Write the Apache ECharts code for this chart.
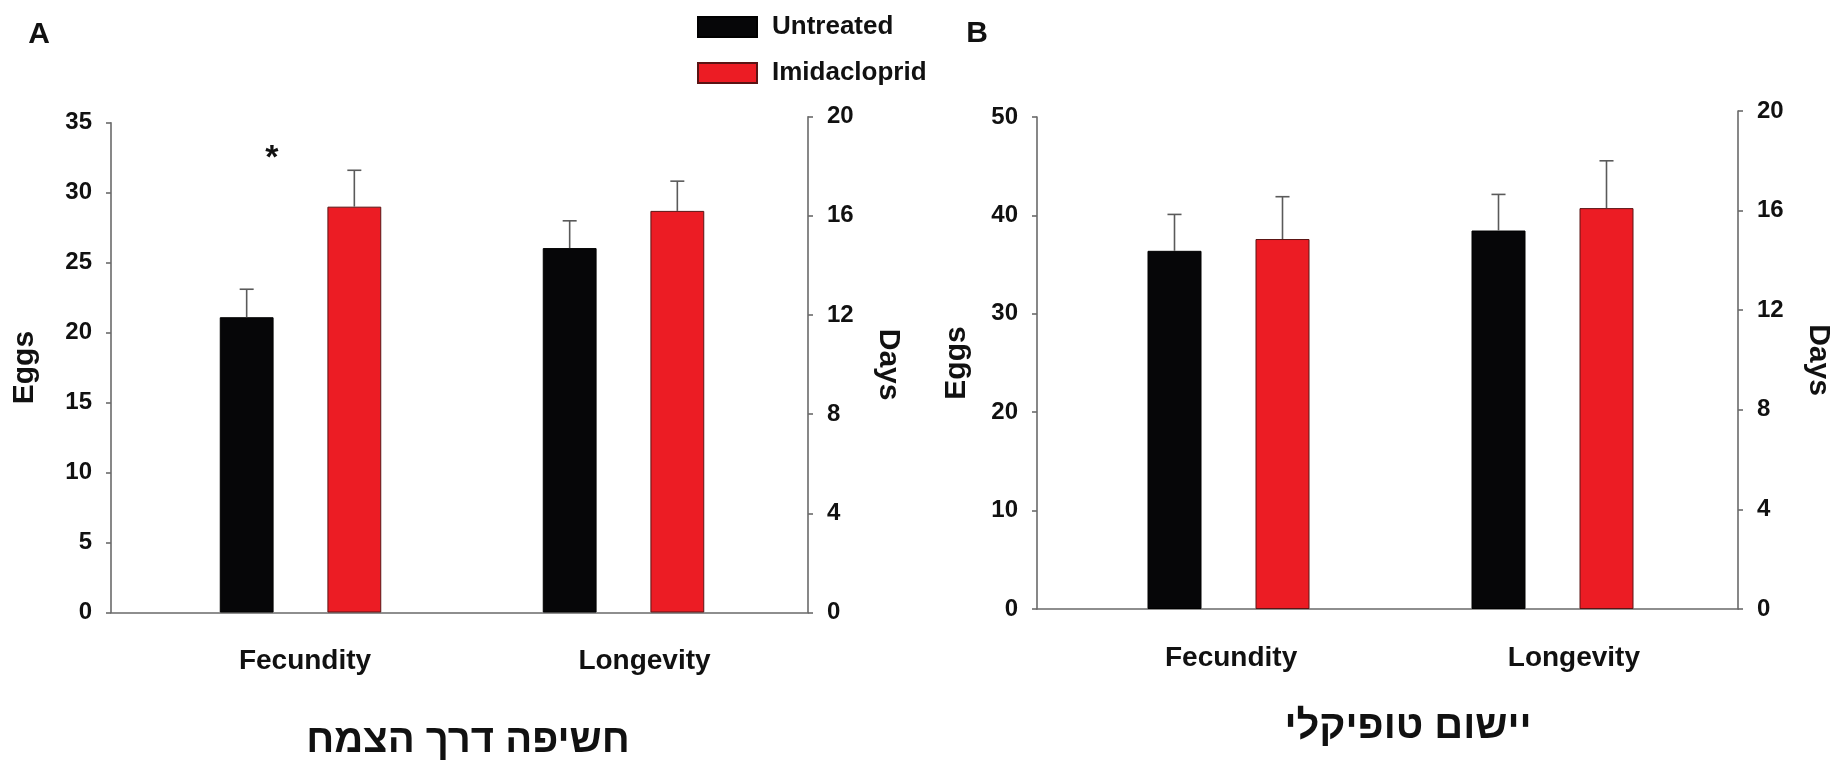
<!DOCTYPE html>
<html>
<head>
<meta charset="utf-8">
<script src="https://cdn.jsdelivr.net/npm/echarts@6/dist/echarts.min.js"></script>
<style>
  html, body { margin: 0; padding: 0; background: #ffffff; }
  #chart { width: 1845px; height: 764px; }
</style>
</head>
<body>
<div id="chart"></div>
<script>
// ---------------- DATA ----------------
const categories = ['Fecundity', 'Longevity'];
const treatments = ['Untreated', 'Imidacloprid'];
const panelLetters = ['A', 'B'];
const panelTitles = ['חשיפה דרך הצמח', 'יישום טופיקלי'];
const eggsAxisName = 'Eggs';
const daysAxisName = 'Days';

// Panel A — means and (upper) error bars, [Untreated, Imidacloprid]
const aFecundityMean = [21.1, 29.0];   // eggs
const aFecundityErr  = [2.0, 2.6];
const aLongevityMean = [14.7, 16.2];   // days
const aLongevityErr  = [1.1, 1.2];
const aEggsTicks = [0, 35, 5];         // min, max, step
const aDaysTicks = [0, 20, 4];
const aSignificance = ['*', ''];       // marks over fecundity bars
const aSignificanceEggs = 33;

// Panel B
const bFecundityMean = [36.4, 37.6];
const bFecundityErr  = [3.7, 4.3];
const bLongevityMean = [15.2, 16.1];
const bLongevityErr  = [1.45, 1.9];
const bEggsTicks = [0, 50, 10];
const bDaysTicks = [0, 20, 4];
const bSignificance = ['', ''];
const bSignificanceEggs = 0;

// ---------------- STYLE / LAYOUT ----------------
const FONT = "'Liberation Sans', Arial, 'DejaVu Sans', sans-serif";
const BLACK = '#060608';
const RED = '#ec1c24';
const AXIS = '#6a6a6a';
const ERR = '#5a5a5a';
const CAT_GAP = 0.5;   // barCategoryGap
const BAR_GAP = 1.0;   // barGap

const panels = [
  {
    fec: aFecundityMean, fecErr: aFecundityErr, lon: aLongevityMean, lonErr: aLongevityErr,
    eggs: aEggsTicks, days: aDaysTicks, sig: aSignificance, sigY: aSignificanceEggs,
    letter: panelLetters[0], title: panelTitles[0],
    L: 111, R: 808, base: 612.5, topL: 122.7, topR: 116.7,
    barL: 139, barR: 785, labL: 135.25, labR: 814.25,
    eggsGap: 71, daysGap: 65, titleX: 468, titleY: 741, letterX: 39, letterY: 35
  },
  {
    fec: bFecundityMean, fecErr: bFecundityErr, lon: bLongevityMean, lonErr: bLongevityErr,
    eggs: bEggsTicks, days: bDaysTicks, sig: bSignificance, sigY: bSignificanceEggs,
    letter: panelLetters[1], title: panelTitles[1],
    L: 1037, R: 1738, base: 609, topL: 117, topR: 111,
    barL: 1066.5, barR: 1714.5, labL: 1059.7, labR: 1745.3,
    eggsGap: 65, daysGap: 65, titleX: 1408, titleY: 727, letterX: 977, letterY: 34
  }
];

const grids = [], xAxes = [], yAxes = [], series = [], titles = [];

const hiddenCat = (gi) => ({ type: 'category', gridIndex: gi, data: categories, show: false });
const hiddenVal = (gi, t) => ({ type: 'value', gridIndex: gi, min: t[0], max: t[1], interval: t[2], show: false });

function visibleY(gi, t, pos, name, gap, rot) {
  return {
    type: 'value', gridIndex: gi, position: pos, min: t[0], max: t[1], interval: t[2],
    name: name, nameLocation: 'middle', nameGap: gap, nameRotate: rot,
    nameTextStyle: { fontFamily: FONT, fontWeight: 'bold', fontSize: 30, color: '#111' },
    axisLine: { show: true, lineStyle: { color: AXIS, width: 1.6 } },
    axisTick: { show: true, inside: false, length: 5, lineStyle: { color: AXIS, width: 1.6 } },
    axisLabel: { margin: 19, fontFamily: FONT, fontWeight: 'bold', fontSize: 24, color: '#111' },
    splitLine: { show: false }
  };
}

function errRender(params, api) {
  const cat = api.value(0), mean = api.value(1), err = api.value(2), idx = api.value(3);
  const catW = api.size([1, 0])[0];
  const barW = catW * (1 - CAT_GAP) / (2 + BAR_GAP);
  const dx = (idx === 0 ? -1 : 1) * barW * (1 + BAR_GAP) / 2;
  const p0 = api.coord([cat, mean]);
  const p1 = api.coord([cat, mean + err]);
  const x = p0[0] + dx;
  const cap = barW * 0.13;
  return {
    type: 'group',
    children: [
      { type: 'line', shape: { x1: x, y1: p0[1], x2: x, y2: p1[1] }, style: { stroke: ERR, lineWidth: 1.6 } },
      { type: 'line', shape: { x1: x - cap, y1: p1[1], x2: x + cap, y2: p1[1] }, style: { stroke: ERR, lineWidth: 1.6 } }
    ]
  };
}

const sigTexts = {};
function sigRender(params, api) {
  const cat = api.value(0), y = api.value(1), idx = api.value(2);
  const catW = api.size([1, 0])[0];
  const barW = catW * (1 - CAT_GAP) / (2 + BAR_GAP);
  const dx = (idx === 0 ? -1 : 1) * barW * (1 + BAR_GAP) / 2;
  const p = api.coord([cat, y]);
  const fs = 34;
  return {
    type: 'text',
    x: p[0] + dx + barW * 0.47, y: p[1] + fs * 0.22,
    style: { text: sigTexts[params.seriesIndex][params.dataIndex], font: 'bold ' + fs + 'px ' + FONT, fill: '#111', align: 'center', verticalAlign: 'middle' }
  };
}

panels.forEach((p, k) => {
  const b = k * 5;
  const W = p.R - p.L;
  grids.push({ left: p.L, width: W, top: p.topL, height: p.base - p.topL });            // left axis + baseline
  grids.push({ left: p.L, width: W, top: p.topR, height: p.base - p.topR });            // right axis
  grids.push({ left: p.barL, width: p.barR - p.barL, top: p.topL, height: p.base - p.topL }); // eggs bars
  grids.push({ left: p.barL, width: p.barR - p.barL, top: p.topR, height: p.base - p.topR }); // days bars
  grids.push({ left: p.labL, width: p.labR - p.labL, top: p.topL, height: p.base - p.topL }); // category labels

  xAxes.push({
    type: 'category', gridIndex: b, data: categories,
    axisLine: { show: true, lineStyle: { color: AXIS, width: 1.6 } },
    axisTick: { show: false }, axisLabel: { show: false }
  });
  xAxes.push(hiddenCat(b + 1));
  xAxes.push(hiddenCat(b + 2));
  xAxes.push(hiddenCat(b + 3));
  xAxes.push({
    type: 'category', gridIndex: b + 4, data: categories,
    axisLine: { show: false }, axisTick: { show: false },
    axisLabel: { show: true, margin: 35, fontFamily: FONT, fontWeight: 'bold', fontSize: 28, color: '#111' }
  });

  yAxes.push(visibleY(b, p.eggs, 'left', eggsAxisName, p.eggsGap, 90));
  yAxes.push(visibleY(b + 1, p.days, 'right', daysAxisName, p.daysGap, -90));
  yAxes.push(hiddenVal(b + 2, p.eggs));
  yAxes.push(hiddenVal(b + 3, p.days));
  yAxes.push(hiddenVal(b + 4, p.eggs));

  const barBase = { type: 'bar', barGap: (BAR_GAP * 100) + '%', barCategoryGap: (CAT_GAP * 100) + '%', silent: true };
  const styleFor = (i) => i === 0
    ? { color: BLACK, borderColor: '#000000', borderWidth: 1 }
    : { color: RED, borderColor: '#5a1414', borderWidth: 1 };

  treatments.forEach((name, i) => {
    series.push(Object.assign({}, barBase, {
      name: name, xAxisIndex: b + 2, yAxisIndex: b + 2,
      data: [p.fec[i], '-'], itemStyle: styleFor(i)
    }));
  });
  treatments.forEach((name, i) => {
    series.push(Object.assign({}, barBase, {
      name: name, xAxisIndex: b + 3, yAxisIndex: b + 3,
      data: ['-', p.lon[i]], itemStyle: styleFor(i)
    }));
  });
  series.push({
    type: 'custom', xAxisIndex: b + 2, yAxisIndex: b + 2, z: 5, silent: true, clip: false,
    renderItem: errRender,
    data: treatments.map((t, i) => [0, p.fec[i], p.fecErr[i], i])
  });
  series.push({
    type: 'custom', xAxisIndex: b + 3, yAxisIndex: b + 3, z: 5, silent: true, clip: false,
    renderItem: errRender,
    data: treatments.map((t, i) => [1, p.lon[i], p.lonErr[i], i])
  });
  const sigIdx = p.sig.map((s, i) => i).filter(i => p.sig[i]);
  if (sigIdx.length) {
    sigTexts[series.length] = sigIdx.map(i => p.sig[i]);
    series.push({
      type: 'custom', xAxisIndex: b + 2, yAxisIndex: b + 2, z: 6, silent: true, clip: false,
      renderItem: sigRender,
      data: sigIdx.map(i => [0, p.sigY, i])
    });
  }

  titles.push({
    text: p.letter, left: p.letterX, top: p.letterY, padding: 0,
    textAlign: 'center', textVerticalAlign: 'middle',
    textStyle: { fontFamily: FONT, fontWeight: 'bold', fontSize: 30, color: '#111' }
  });
  titles.push({
    text: p.title, left: p.titleX, top: p.titleY, padding: 0,
    textAlign: 'center', textVerticalAlign: 'middle',
    textStyle: { fontFamily: FONT, fontWeight: 'bold', fontSize: 40, color: '#111' }
  });
});

const chart = echarts.init(document.getElementById('chart'), null, { renderer: 'canvas' });
chart.setOption({
  backgroundColor: '#ffffff',
  animation: false,
  title: titles,
  legend: {
    data: treatments, orient: 'vertical', left: 697, top: 14, padding: 0,
    itemWidth: 59, itemHeight: 20, itemGap: 20, icon: 'rect',
    textStyle: { fontFamily: FONT, fontWeight: 'bold', fontSize: 26, color: '#111', lineHeight: 20, padding: [0, 0, 0, 10] }
  },
  grid: grids,
  xAxis: xAxes,
  yAxis: yAxes,
  series: series
});
</script>
</body>
</html>
